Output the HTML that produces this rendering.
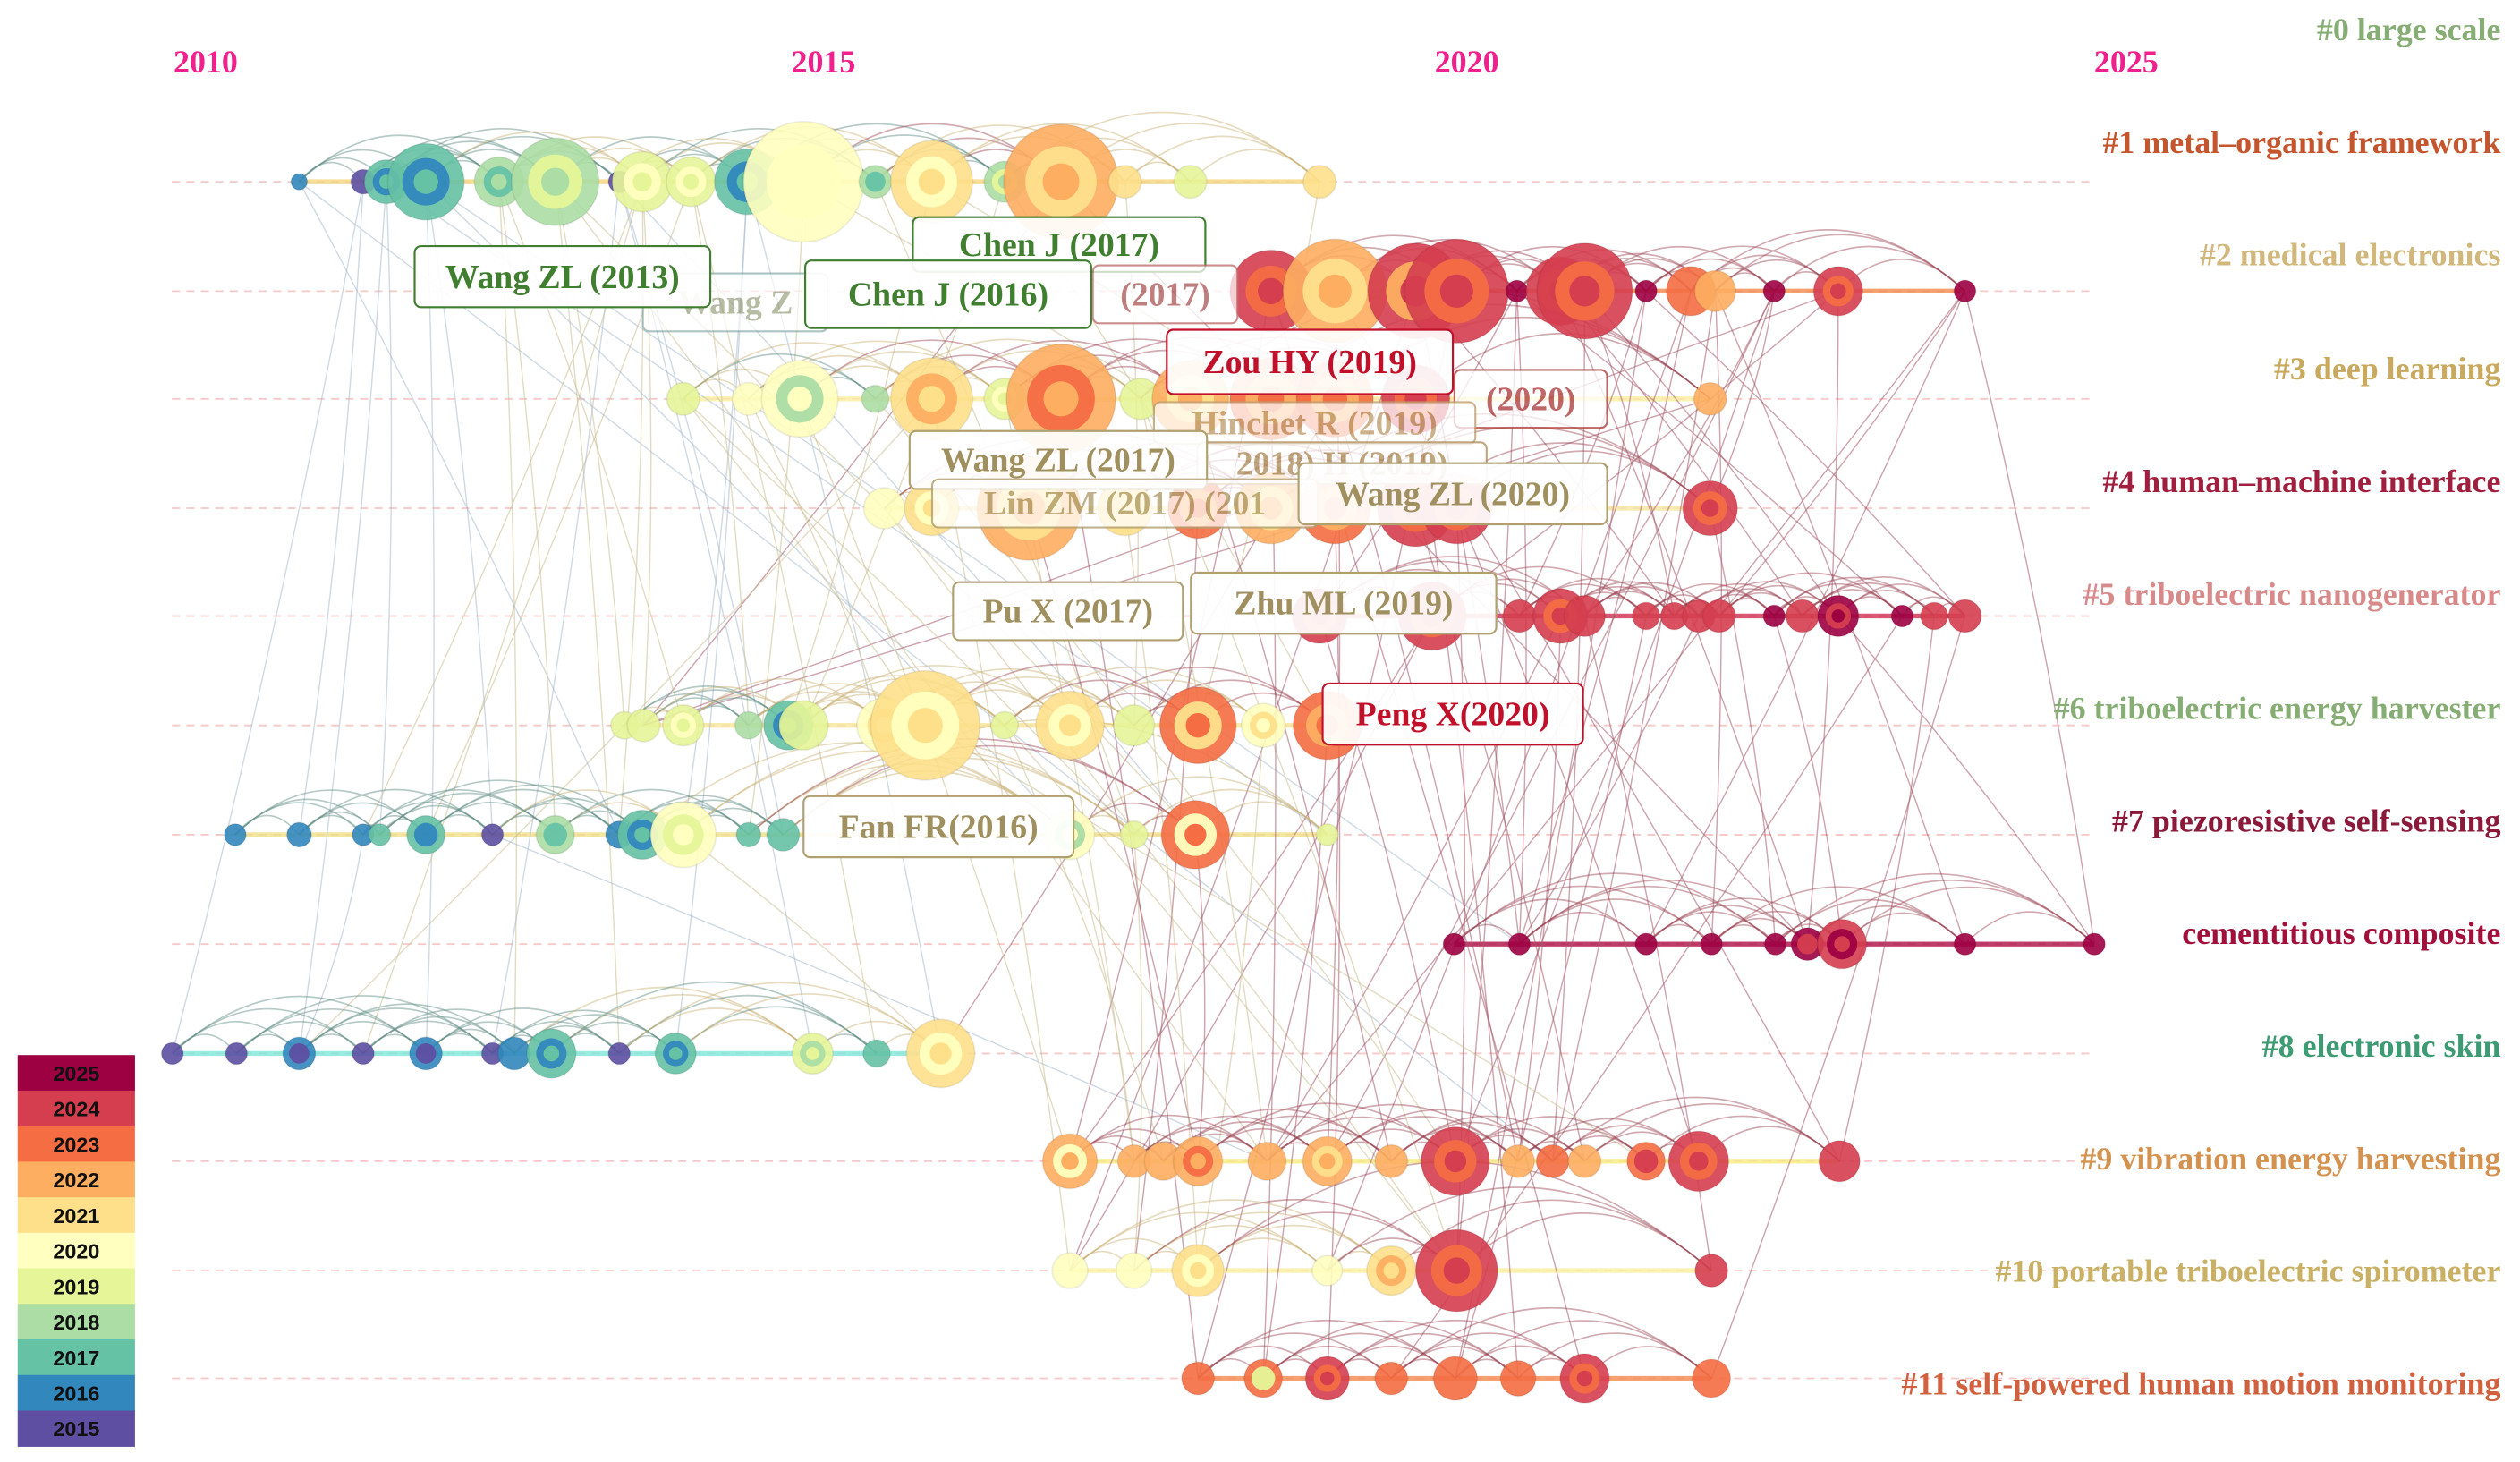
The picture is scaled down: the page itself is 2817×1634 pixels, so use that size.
<!DOCTYPE html>
<html><head><meta charset="utf-8">
<style>
html,body{margin:0;padding:0;background:#fff;}
svg{display:block;}
text{font-family:"Liberation Serif",serif;font-weight:bold;}
</style></head>
<body>
<svg id="chart" width="2817" height="1634" viewBox="0 0 1568 909" preserveAspectRatio="none" xmlns="http://www.w3.org/2000/svg">
<g id="gLines"></g>
<g id="gLinks"></g>
<g id="gNodes"></g>
<g id="gAxis"></g>
<g id="gLabels"></g>
<g id="gCallouts"></g>
<g id="gLegend"></g>
</svg>
<script>
const years=[2010,2015,2020,2025];
const tickOffset=[0,-14,-12,0];
const clusterLabels=["#0 large scale","#1 metal–organic framework","#2 medical electronics","#3 deep learning","#4 human–machine interface","#5 triboelectric nanogenerator","#6 triboelectric energy harvester","#7 piezoresistive self-sensing","cementitious composite","#8 electronic skin","#9 vibration energy harvesting","#10 portable triboelectric spirometer","#11 self-powered human motion monitoring"];
const clusterColors=["#86ad74","#c4552d","#d2b77c","#c9a95e","#a11f3e","#d88a8a","#86ad74","#8b1a3a","#a0103a","#3c9b72","#d39250","#c9b064","#d0603e"];
const rowLineColors=["none","#f6d77a","#f58a4e","#fbeea0","#f5e8a0","#d03050","#f6e89a","#f0e08a","#b01048","#7fe8dc","#f7ec80","#fbf0a0","#f58a50"];
const legendYears=[2025,2024,2023,2022,2021,2020,2019,2018,2017,2016,2015];
const legendColors=["#9e0142","#d53e4f","#f46d43","#fdae61","#fee08b","#ffffbf","#e6f598","#abdda4","#66c2a5","#3288bd","#5e4fa2"];
const nodeYear=[
2010.73,2011.23,2011.41,2011.72,2012.29,2012.73,2013.23,2013.41,2013.79,2014.23,2014.67,2015.23,2015.67,2016.24,2016.68,2017.18,2017.69,2018.70,
2018.32,2018.82,2019.45,2019.77,2020.24,2020.58,2020.77,2021.25,2021.60,2021.79,2022.25,2022.75,2023.74,
2013.73,2014.24,2014.64,2015.23,2015.67,2016.24,2016.68,2017.30,2017.69,2018.32,2018.82,2019.45,2021.75,
2015.30,2015.67,2016.43,2017.18,2017.75,2018.32,2018.82,2019.45,2019.77,2021.75,
2018.70,2019.58,2020.26,2020.58,2020.77,2021.25,2021.47,2021.66,2021.82,2022.25,2022.47,2022.75,2023.25,2023.50,2023.74,
2013.27,2013.42,2013.73,2014.24,2014.55,2014.67,2015.30,2015.62,2016.24,2016.75,2017.25,2017.75,2018.26,2018.76,
2010.23,2010.73,2011.23,2011.36,2011.72,2012.24,2012.73,2013.23,2013.41,2013.73,2014.24,2014.51,2016.75,2017.25,2017.73,2018.76,
2019.75,2020.26,2021.25,2021.76,2022.26,2022.51,2022.78,2023.74,2024.75,
2009.74,2010.24,2010.73,2011.23,2011.72,2012.24,2012.41,2012.70,2013.23,2013.67,2014.74,2015.24,2015.74,
2016.75,2017.25,2017.48,2017.75,2018.29,2018.76,2019.26,2019.76,2020.25,2020.52,2020.77,2021.25,2021.66,2022.76,
2016.75,2017.25,2017.75,2018.76,2019.26,2019.77,2021.76,
2017.75,2018.26,2018.76,2019.26,2019.76,2020.25,2020.77,2021.76];
const nodeRow=[
1,1,1,1,1,1,1,1,1,1,1,1,1,1,1,1,1,1,
2,2,2,2,2,2,2,2,2,2,2,2,2,
3,3,3,3,3,3,3,3,3,3,3,3,3,
4,4,4,4,4,4,4,4,4,4,
5,5,5,5,5,5,5,5,5,5,5,5,5,5,5,
6,6,6,6,6,6,6,6,6,6,6,6,6,6,
7,7,7,7,7,7,7,7,7,7,7,7,7,7,7,7,
8,8,8,8,8,8,8,8,8,
9,9,9,9,9,9,9,9,9,9,9,9,9,
10,10,10,10,10,10,10,10,10,10,10,10,10,10,
11,11,11,11,11,11,11,
12,12,12,12,12,12,12,12];
const nodeSize=[
6,9,16,28,18,32,8,22,18,24,44,12,30,15,42,12,12,12,
30,38,35,38,8,25,35,8,18,15,8,18,8,
12,12,28,10,30,15,40,15,28,30,28,25,12,
15,20,38,20,22,26,26,28,26,20,
20,25,12,20,15,10,10,12,12,8,12,15,8,10,12,
10,12,15,10,18,18,20,40,10,25,15,28,16,25,
8,9,8,8,14,8,14,10,18,24,9,12,18,10,25,8,
8,8,8,8,8,12,18,8,8,
8,8,12,8,12,8,12,18,8,15,15,10,25,
20,12,14,18,14,18,12,25,12,12,12,14,22,15,
13,13,19,11,18,30,12,
12,14,16,12,16,13,18,14];
const nodeColorYear=[
2016,2015,2017,2017,2018,2018,2015,2019,2019,2017,2020,2018,2021,2018,2022,2021,2019,2021,
2024,2022,2024,2024,2025,2024,2024,2025,2023,2022,2025,2024,2025,
2019,2020,2020,2018,2021,2019,2022,2019,2022,2023,2023,2024,2022,
2020,2021,2022,2021,2023,2022,2023,2024,2024,2024,
2024,2024,2024,2024,2024,2024,2024,2024,2024,2025,2024,2025,2025,2024,2024,
2019,2019,2019,2018,2017,2019,2020,2021,2019,2021,2019,2023,2020,2023,
2016,2016,2016,2017,2017,2015,2018,2016,2017,2020,2017,2017,2020,2019,2023,2019,
2025,2025,2025,2025,2025,2025,2024,2025,2025,
2015,2015,2016,2015,2016,2015,2016,2017,2015,2017,2019,2017,2021,
2022,2022,2022,2022,2022,2022,2022,2024,2022,2023,2022,2023,2024,2024,
2020,2020,2021,2020,2021,2024,2024,
2023,2023,2024,2023,2023,2023,2024,2023];
const nodeInnerYear=[
0,0,2016,2016,2017,2019,0,2020,2020,2016,2020,2017,2020,2019,2021,0,0,0,
2023,2021,2022,2023,0,2023,2023,0,0,0,0,2023,0,
0,0,2018,0,2022,2020,2023,0,2021,2022,2022,2023,0,
0,2020,2021,0,2022,2021,2022,2023,2023,2023,
2023,2023,0,2023,0,0,0,0,0,0,0,2024,0,0,0,
0,0,2020,0,2016,0,2021,2020,0,2020,0,2021,2021,2022,
0,0,0,0,2016,0,2017,0,2016,2019,0,0,2018,0,2020,0,
0,0,0,0,0,2024,2025,0,0,
0,0,2015,0,2015,0,0,2016,0,2016,2018,0,2020,
2020,0,0,2023,0,2021,0,2023,0,0,0,2024,2023,0,
0,0,2020,0,2022,2023,0,
0,2019,2023,0,0,0,2023,0];
const crossLinks=[[0,130],[3,100],[10,50],[12,40],[14,70],[9,155],[7,90],[20,60],[22,140],[27,130],[30,125],[25,160],[18,148],[36,150],[47,150],[52,140],[55,135],[61,152],[66,145],[13,82],[5,125],[16,150],[21,165],[24,65],[29,55],[28,126],[43,70],[46,160],[31,96],[35,110],[38,140],[41,120],[44,140],[49,160],[57,125],[72,150],[77,140],[85,110],[88,125],[92,120],[6,97],
[1,108],[2,110],[3,112],[4,114],[5,116],[6,118],[7,85],[8,87],[9,92],[0,90],[3,95],[5,97],[7,111],[8,119],[2,86],[4,89],[6,94],[9,117],[1,84],[3,88],[5,69],[7,70],[8,72],[4,71],[2,98],[6,113],[9,120],[10,93],[11,96],[12,73],[13,74],[15,79],[17,80],[14,104],
[18,121],[19,126],[20,135],[21,142],[22,100],[23,104],[24,130],[25,146],[26,138],[27,106],[28,128],[29,70],[30,101],[22,54],[25,56],[28,58],[30,62],[22,66],[25,68],[28,53],[30,107],[26,100],[27,102],[29,104],[24,60],[23,64],[20,100],[19,134],
[33,121],[35,135],[37,142],[39,127],[40,143],[41,129],[42,147],[36,122],[38,125],[34,79],[32,75],[31,76],
[46,124],[48,136],[50,144],[51,131],[53,103],[52,133],[47,137],
[55,121],[57,129],[59,146],[61,100],[63,105],[65,107],[67,134],[68,149],[54,128],[58,141],
[77,123],[79,128],[81,137],[82,143],[76,132],[95,122],[96,136],[97,124]];

const NS="http://www.w3.org/2000/svg";
const x0=128,x1=1323;
function X(y){return x0+(y-2010)*(x1-x0)/15;}
const rowY=[18,113,181,248,316,383,451,519,587,655,722,790,857];
function Y(r){return rowY[r];}
function col(y){const i=legendYears.indexOf(y);return i<0?"#ccc":legendColors[i];}
function linkCol(y){return y<=2017?"#a9bccd":(y<=2021?"#cbbf95":"#a45a6a");}
function mk(tag,attrs,parent){const e=document.createElementNS(NS,tag);for(const k in attrs)e.setAttribute(k,attrs[k]);parent.appendChild(e);return e;}

const gAxis=document.getElementById('gAxis');
years.forEach((y,i)=>{const t=mk('text',{x:X(y)+tickOffset[i],y:45,'text-anchor':'middle','font-size':20,fill:'#f0208c'},gAxis);t.textContent=y;

});

const gLines=document.getElementById('gLines');
for(let r=1;r<rowY.length;r++){
 const l=mk('line',{x1:107,x2:1303,y1:Y(r),y2:Y(r),stroke:'#f6c8c8','stroke-width':1,'stroke-dasharray':'5,4'},gLines);
 
 
 const xs=[];nodeRow.forEach((rr,i)=>{if(rr===r)xs.push(X(nodeYear[i]));});
 if(xs.length){const s=mk('line',{x1:Math.min(...xs),x2:Math.max(...xs),y1:Y(r),y2:Y(r),stroke:rowLineColors[r],'stroke-width':3,opacity:0.8},gLines);
 
 }
}

const gLinks=document.getElementById('gLinks');
crossLinks.forEach(([a,b])=>{if(a>=nodeYear.length||b>=nodeYear.length)return;
 const xa=X(nodeYear[a]),ya=Y(nodeRow[a]),xb=X(nodeYear[b]),yb=Y(nodeRow[b]);
 const p=mk('path',{d:`M${xa},${ya} Q${(xa+xb)/2+10},${(ya+yb)/2} ${xb},${yb}`,fill:'none',stroke:linkCol(nodeColorYear[a]),'stroke-width':0.8,opacity:0.55},gLinks);
 
 });
for(let r=1;r<rowY.length;r++){
 const idx=[];nodeRow.forEach((rr,i)=>{if(rr===r)idx.push(i);});
 for(let k=0;k<idx.length;k++){for(let s=1;s<=4;s++){if(k+s>=idx.length)break;
  const a=idx[k],b=idx[k+s];const xa=X(nodeYear[a]),xb=X(nodeYear[b]),y=Y(r);const h=(xb-xa)*0.4+8;
  const p=mk('path',{d:`M${xa},${y} Q${(xa+xb)/2},${y-h} ${xb},${y}`,fill:'none',stroke:nodeColorYear[b]>=2022?"#9a4050":(nodeColorYear[b]<=2018?"#5a8a80":"#c8b070"),'stroke-width':0.9,opacity:0.45},gLinks);
  
  }}
}

const gNodes=document.getElementById('gNodes');
nodeYear.forEach((y,i)=>{
 const cx=X(y),cy=Y(nodeRow[i]),r=nodeSize[i]*0.85;
 const c=mk('circle',{cx:cx,cy:cy,r:r,fill:col(nodeColorYear[i]),opacity:0.9,stroke:'rgba(0,0,0,0.08)','stroke-width':1},gNodes);
 
 
 if(nodeInnerYear[i]){const c2=mk('circle',{cx:cx,cy:cy,r:r*0.62,fill:col(nodeInnerYear[i]),opacity:0.95},gNodes);
  
  
  if(r>12){const c3=mk('circle',{cx:cx,cy:cy,r:r*0.32,fill:col(nodeColorYear[i])},gNodes);
  
  }}
});

const gLabels=document.getElementById('gLabels');
const labY=[25,95,165,236,306,376,447,517,587,657,727,797,867];
clusterLabels.forEach((t,i)=>{const e=mk('text',{x:1556,y:labY[i],'text-anchor':'end','font-size':20,fill:clusterColors[i]},gLabels);e.textContent=t;

});

const gC=document.getElementById('gCallouts');
const callouts=[
["Wang Z",400,170,115,36,"#8aa","#9aa080",0.7],
["Chen J (2017)",568,135,182,34,"#3f7f2f","#3f7f2f",1],
["(2017)",680,165,90,36,"#c07070","#b06060",0.8],
["Wang ZL (2013)",258,153,184,38,"#3f7f2f","#3f7f2f",1],
["Chen J (2016)",501,162,178,42,"#3f7f2f","#3f7f2f",1],
["(2020)",905,230,95,36,"#b04040","#b04040",0.8],
["Hinchet R (2019)",718,250,200,26,"#c0a070","#c0a070",0.8],
["Zou HY (2019)",726,205,178,40,"#c0102a","#c0102a",1],
["2018)  H (2019)",745,275,180,26,"#b09060","#b09060",0.8],
["Wang ZL (2017)",566,268,185,36,"#b0a070","#a09060",1],
["Lin ZM (2017)  (201",580,298,240,30,"#b0a070","#b0a070",0.8],
["Wang ZL (2020)",808,288,192,38,"#b0a070","#a09060",1],
["Pu X (2017)",593,362,143,36,"#b0a070","#a09060",1],
["Zhu ML (2019)",741,356,190,38,"#b0a070","#a09060",1],
["Peng X(2020)",823,425,162,38,"#c0102a","#c0102a",1],
["Fan FR(2016)",500,495,168,38,"#b0a070","#a09060",1]];
callouts.forEach((c,i)=>{const [t,x,y,w,h,bc,tc,op]=c;
 const g=mk('g',{opacity:op},gC);
 
 
 mk('rect',{x:x,y:y,width:w,height:h,rx:4,fill:'#fff','fill-opacity':0.92,stroke:bc,'stroke-width':1.2},g);
 const e=mk('text',{x:x+w/2,y:y+h/2+7,'text-anchor':'middle','font-size':21,fill:tc},g);e.textContent=t;});

const gL=document.getElementById('gLegend');
legendYears.forEach((y,i)=>{
 const r=mk('rect',{x:11,y:656+i*22.1,width:73,height:22.5,fill:legendColors[i]},gL);
 
 
 const t=mk('text',{x:47.5,y:656+i*22.1+16,'text-anchor':'middle','font-size':13,fill:'#111',style:'font-family:"Liberation Sans",sans-serif'},gL);t.textContent=y;
 
 
});
</script>
</body></html>
